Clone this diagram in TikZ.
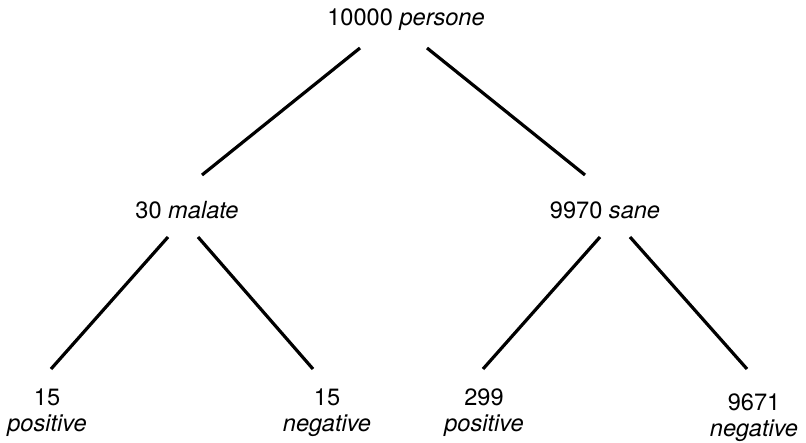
\documentclass[tikz,border=0pt]{standalone}
\usepackage{fontspec}
\setmainfont{TeX Gyre Heros}
\begin{document}
\begin{tikzpicture}[x=0.5pt,y=-0.5pt,
  lbl/.style={inner sep=0pt, anchor=base, font=\fontsize{11.8}{12.6}\selectfont},
  leaf/.style={lbl, align=center},
  edge/.style={line width=1.6pt}]
\useasboundingbox (0,0) rectangle (806,443);
\node[lbl] (persone) at (406,26){10000 \textit{persone}};
\node[lbl] (malate) at (187,218){30 \textit{malate}};
\node[lbl] (sane) at (605,218){9970 \textit{sane}};
\node[leaf] (malpos) at (47,431){15\\\textit{positive}};
\node[leaf] (malneg) at (327,431){15\\\textit{negative}};
\node[leaf] (sanpos) at (484,431){299\\\textit{positive}};
\node[leaf] (sanneg) at (754,436){9671\\\textit{negative}};
% line ends
\coordinate (persone-l) at (360,48);
\coordinate (persone-r) at (427,48);
\coordinate (malate-t) at (202,175);
\coordinate (sane-t) at (585,175);
\coordinate (malate-l) at (168,237);
\coordinate (malate-r) at (198,237);
\coordinate (sane-l) at (600,237);
\coordinate (sane-r) at (630,237);
\coordinate (malpos-t) at (51,369);
\coordinate (malneg-t) at (313,369);
\coordinate (sanpos-t) at (483,369);
\coordinate (sanneg-t) at (747,369);
\draw[edge](persone-l) -- (malate-t);
\draw[edge](persone-r) -- (sane-t);
\draw[edge](malate-l) -- (malpos-t);
\draw[edge](malate-r) -- (malneg-t);
\draw[edge](sane-l) -- (sanpos-t);
\draw[edge](sane-r) -- (sanneg-t);
\end{tikzpicture}
\end{document}
